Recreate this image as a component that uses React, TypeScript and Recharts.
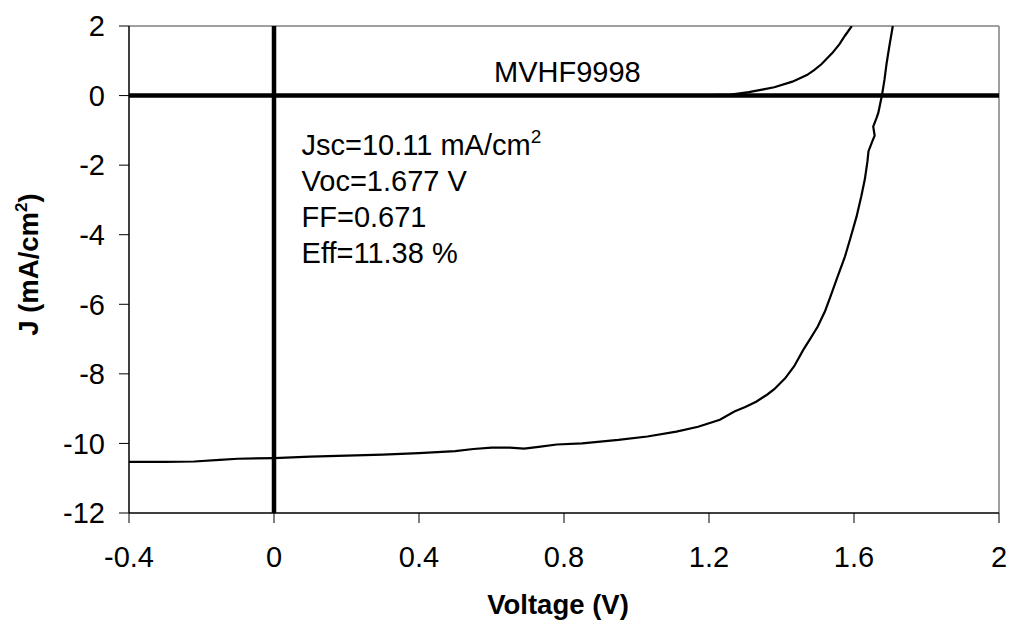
import {
  LineChart,
  Line,
  XAxis,
  YAxis,
  ReferenceLine,
  ReferenceDot,
} from "recharts";

const FONT = "'Liberation Sans', Arial, sans-serif";

// illuminated J-V curve (voltage, current density)
const lightV = [
  -0.4, -0.3, -0.22, -0.15, -0.1, 0, 0.1, 0.2, 0.3, 0.4, 0.5, 0.55, 0.6, 0.65,
  0.69, 0.73, 0.78, 0.85, 0.95, 1.03, 1.11, 1.17, 1.23, 1.27, 1.3, 1.33, 1.36,
  1.38, 1.41, 1.435, 1.46, 1.48, 1.5, 1.52, 1.535, 1.555, 1.575, 1.59, 1.607,
  1.62, 1.63, 1.637, 1.64, 1.651, 1.657, 1.653, 1.662, 1.667, 1.672, 1.677,
  1.684, 1.69, 1.698, 1.707,
];
const lightJ = [
  -10.53, -10.53, -10.52, -10.47, -10.44, -10.42, -10.38, -10.35, -10.32,
  -10.28, -10.22, -10.16, -10.12, -10.12, -10.15, -10.1, -10.03, -10.0, -9.9,
  -9.8, -9.66, -9.52, -9.32, -9.08, -8.95, -8.8, -8.6, -8.44, -8.13, -7.78,
  -7.31, -6.98, -6.64, -6.2, -5.78, -5.2, -4.63, -4.1, -3.48, -2.9, -2.4, -1.9,
  -1.6, -1.3, -1.15, -0.89, -0.65, -0.5, -0.25, 0, 0.45, 0.93, 1.45, 2.0,
];

// dark J-V curve
const darkV = [0, 1.0, 1.2, 1.26, 1.31, 1.35, 1.38, 1.43, 1.47, 1.49, 1.51, 1.54, 1.56, 1.575, 1.594];
const darkJ = [0, 0, 0.01, 0.03, 0.1, 0.18, 0.24, 0.4, 0.59, 0.73, 0.9, 1.22, 1.48, 1.72, 2.0];

const xTicks = [-0.4, 0, 0.4, 0.8, 1.2, 1.6, 2];
const yTicks = [-12, -10, -8, -6, -4, -2, 0, 2];

const resultLines = ["Voc=1.677 V", "FF=0.671", "Eff=11.38 %"];

const lightData = lightV.map((v, i) => ({ v, j: lightJ[i] }));
const darkData = darkV.map((v, i) => ({ v, j: darkJ[i] }));

function ResultsLabel(props: any) {
  const { viewBox } = props;
  const x = viewBox.x + viewBox.width / 2;
  const y = viewBox.y + viewBox.height / 2;
  return (
    <text x={x} y={y} fontFamily={FONT} fontSize={29} fill="#000">
      <tspan x={x} y={y}>
        Jsc=10.11 mA/cm
        <tspan fontSize={19} dy={-12}>2</tspan>
      </tspan>
      {resultLines.map((s, i) => (
        <tspan key={s} x={x} y={y + 36 * (i + 1)}>
          {s}
        </tspan>
      ))}
    </text>
  );
}

function NameLabel(props: any) {
  const { viewBox } = props;
  return (
    <text
      x={viewBox.x + viewBox.width / 2}
      y={viewBox.y + viewBox.height / 2}
      fontFamily={FONT}
      fontSize={29}
      fill="#000"
    >
      MVHF9998
    </text>
  );
}

function YTitle(props: any) {
  const { viewBox } = props;
  const x = viewBox.x + 38;
  const y = viewBox.y + viewBox.height / 2 - 5;
  return (
    <text
      x={x}
      y={y}
      transform={`rotate(-90, ${x}, ${y})`}
      textAnchor="middle"
      fontFamily={FONT}
      fontSize={27.5}
      fontWeight="bold"
      fill="#000"
    >
      J (mA/cm<tspan fontSize={17} dy={-11}>2</tspan>
      <tspan dy={11}>)</tspan>
    </text>
  );
}

function XTitle(props: any) {
  const { viewBox } = props;
  return (
    <text
      x={viewBox.x + viewBox.width / 2 - 6}
      y={viewBox.y + viewBox.height - 7}
      textAnchor="middle"
      fontFamily={FONT}
      fontSize={27.5}
      fontWeight="bold"
      fill="#000"
    >
      Voltage (V)
    </text>
  );
}

export default function App() {
  const tickStyle = { fontSize: 29, fill: "#000", fontFamily: FONT };
  return (
    <div style={{ position: "absolute", left: 0, top: 0, background: "#fff" }}>
      <LineChart
        width={1011}
        height={621}
        margin={{ top: 26, right: 12, left: 0, bottom: 0 }}
      >
        <XAxis
          type="number"
          dataKey="v"
          domain={[-0.4, 2]}
          ticks={xTicks}
          allowDataOverflow
          height={108}
          tick={tickStyle}
          tickSize={10}
          tickMargin={23}
          axisLine={{ stroke: "#000", strokeWidth: 1.5 }}
          tickLine={{ stroke: "#000" }}
          label={<XTitle />}
        />
        <YAxis
          type="number"
          domain={[-12, 2]}
          ticks={yTicks}
          allowDataOverflow
          width={129}
          tick={tickStyle}
          tickSize={10}
          tickMargin={14}
          axisLine={{ stroke: "#000", strokeWidth: 1.5 }}
          tickLine={{ stroke: "#000" }}
          label={<YTitle />}
        />
        <ReferenceLine y={2} stroke="#808080" strokeWidth={1.5} />
        <ReferenceLine x={2} stroke="#808080" strokeWidth={1.5} />
        <ReferenceLine y={0} stroke="#000" strokeWidth={4.5} />
        <ReferenceLine x={0} stroke="#000" strokeWidth={4.5} />
        <Line
          data={darkData}
          dataKey="j"
          type="linear"
          stroke="#000"
          strokeWidth={2.2}
          dot={false}
          isAnimationActive={false}
        />
        <Line
          data={lightData}
          dataKey="j"
          type="linear"
          stroke="#000"
          strokeWidth={2.2}
          dot={false}
          isAnimationActive={false}
        />
        <ReferenceDot
          x={0.076}
          y={-1.7}
          r={1}
          fill="none"
          stroke="none"
          label={<ResultsLabel />}
        />
        <ReferenceDot
          x={0.607}
          y={0.4}
          r={1}
          fill="none"
          stroke="none"
          label={<NameLabel />}
        />
      </LineChart>
    </div>
  );
}
